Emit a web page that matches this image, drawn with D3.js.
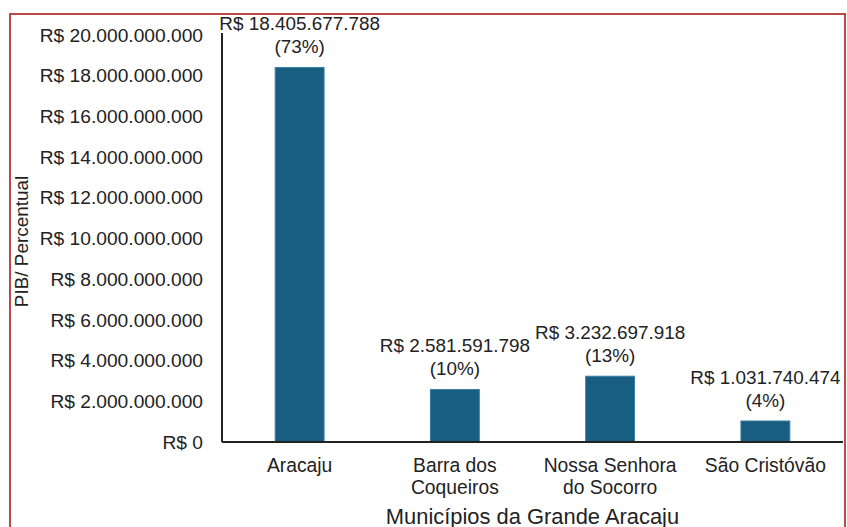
<!DOCTYPE html>
<html><head><meta charset="utf-8">
<script src="https://cdn.jsdelivr.net/npm/d3@7"></script>
<style>body{margin:0;background:#fff}text{font-family:"Liberation Sans",Arial,sans-serif;fill:#222}</style>
</head><body>
<svg id="c" width="847" height="527"></svg>
<script>
const categories = [["Aracaju"], ["Barra dos","Coqueiros"], ["Nossa Senhora","do Socorro"], ["São Cristóvão"]];
const values = [18405677788, 2581591798, 3232697918, 1031740474];
const valueLabels = ["R$ 18.405.677.788","R$ 2.581.591.798","R$ 3.232.697.918","R$ 1.031.740.474"];
const percents = ["(73%)","(10%)","(13%)","(4%)"];
const yTicks = [0,2e9,4e9,6e9,8e9,10e9,12e9,14e9,16e9,18e9,20e9];

(function(){
const svg = d3.select("#c");
const mLeft=222,mRight=843,mTop=35,mBottom=442;
svg.append("rect").attr("x",10).attr("y",14).attr("width",835).attr("height",530)
  .attr("fill","none").attr("stroke","#b94a48").attr("stroke-width",2);

const x = d3.scaleBand().domain(d3.range(categories.length)).range([mLeft,mRight]).padding(0);
const y = d3.scaleLinear().domain([0,20e9]).range([mBottom,mTop]);
const fmt = v => "R$ " + (v===0?"0":d3.format(",")(v).replace(/,/g,"."));

const yAxis = svg.append("g").attr("transform",`translate(${mLeft},0)`)
  .call(d3.axisLeft(y).tickValues(yTicks).tickFormat(fmt).tickSize(0).tickPadding(19));
yAxis.select(".domain").attr("stroke","#222").attr("stroke-width",2).attr("d",`M0,33V${mBottom}`);
yAxis.selectAll("text").attr("font-size",19.2).attr("fill","#222").attr("font-family",null);

const bw = x.bandwidth()*0.315;
svg.selectAll(".bar").data(values).join("rect")
  .attr("x",(d,i)=>x(i)+x.bandwidth()/2-bw/2).attr("y",d=>y(d))
  .attr("width",bw).attr("height",d=>mBottom-y(d))
  .attr("fill","#175e80").attr("stroke","#3d7fa3").attr("stroke-width",1);

svg.append("line").attr("x1",mLeft).attr("x2",mRight).attr("y1",mBottom).attr("y2",mBottom)
  .attr("stroke","#222").attr("stroke-width",2);

const lab = svg.selectAll(".lab").data(values).join("g");
lab.append("text").attr("x",(d,i)=>x(i)+x.bandwidth()/2).attr("y",d=>y(d)-37)
  .attr("text-anchor","middle").attr("font-size",18.9)
  .text((d,i)=>valueLabels[i]);
lab.append("text").attr("x",(d,i)=>x(i)+x.bandwidth()/2).attr("y",d=>y(d)-14)
  .attr("text-anchor","middle").attr("font-size",18.9)
  .text((d,i)=>percents[i]);

categories.forEach((c,i)=>{
  const t = svg.append("text").attr("x",x(i)+x.bandwidth()/2).attr("y",472)
    .attr("text-anchor","middle").attr("font-size",19.3);
  c.forEach((s,j)=>t.append("tspan").attr("x",x(i)+x.bandwidth()/2).attr("dy",j?22:0).text(s));
});

svg.append("text").attr("x",(mLeft+mRight)/2).attr("y",524).attr("text-anchor","middle")
  .attr("font-size",21.9).text("Municípios da Grande Aracaju");
svg.append("text").attr("transform",`translate(28,241.5) rotate(-90)`)
  .attr("text-anchor","middle").attr("font-size",18.9).text("PIB/ Percentual");
})();
</script>
</body></html>
